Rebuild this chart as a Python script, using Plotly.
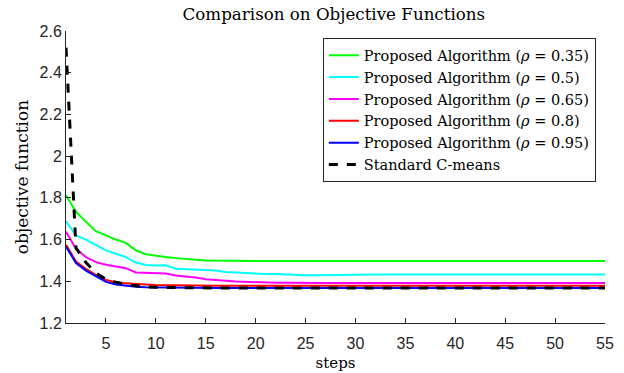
import plotly.graph_objects as go

steps = list(range(1, 56))

rho_035 = [1.813, 1.733, 1.685, 1.640, 1.620, 1.600, 1.584, 1.548, 1.530, 1.522,
           1.516, 1.511, 1.506, 1.503, 1.500, 1.499, 1.498, 1.497, 1.497, 1.497,
           1.497, 1.497, 1.497, 1.497, 1.497, 1.497, 1.497, 1.497, 1.497, 1.497,
           1.497, 1.497, 1.497, 1.497, 1.497, 1.497, 1.497, 1.497, 1.497, 1.497,
           1.497, 1.497, 1.497, 1.497, 1.497, 1.497, 1.497, 1.497, 1.497, 1.497,
           1.497, 1.497, 1.497, 1.497, 1.497]
rho_05 = [1.688, 1.620, 1.600, 1.572, 1.548, 1.532, 1.516, 1.490, 1.478, 1.476,
          1.477, 1.460, 1.458, 1.456, 1.455, 1.452, 1.445, 1.442, 1.440, 1.438,
          1.435, 1.435, 1.432, 1.430, 1.429, 1.429, 1.430, 1.431, 1.432, 1.432,
          1.432, 1.432, 1.432, 1.432, 1.432, 1.432, 1.432, 1.432, 1.432, 1.432,
          1.432, 1.432, 1.432, 1.432, 1.432, 1.432, 1.432, 1.432, 1.432, 1.432,
          1.432, 1.432, 1.432, 1.432, 1.432]
rho_065 = [1.637, 1.556, 1.516, 1.492, 1.479, 1.472, 1.463, 1.442, 1.440, 1.440,
           1.437, 1.428, 1.424, 1.418, 1.410, 1.405, 1.402, 1.399, 1.397, 1.395,
           1.394, 1.393, 1.393, 1.392, 1.392, 1.392, 1.392, 1.392, 1.392, 1.392,
           1.392, 1.392, 1.392, 1.392, 1.392, 1.392, 1.392, 1.392, 1.392, 1.392,
           1.392, 1.392, 1.392, 1.392, 1.392, 1.392, 1.392, 1.392, 1.392, 1.392,
           1.392, 1.392, 1.392, 1.392, 1.392]
rho_08 = [1.575, 1.495, 1.459, 1.430, 1.406, 1.395, 1.390, 1.386, 1.384, 1.382,
          1.381, 1.380, 1.380, 1.379, 1.379, 1.379, 1.379, 1.379, 1.379, 1.379,
          1.379, 1.379, 1.379, 1.379, 1.379, 1.379, 1.379, 1.379, 1.379, 1.379,
          1.379, 1.379, 1.379, 1.379, 1.379, 1.379, 1.379, 1.379, 1.379, 1.379,
          1.379, 1.379, 1.379, 1.379, 1.379, 1.379, 1.379, 1.379, 1.379, 1.379,
          1.379, 1.379, 1.379, 1.379, 1.379]
rho_095 = [1.567, 1.487, 1.451, 1.422, 1.397, 1.385, 1.378, 1.374, 1.372, 1.371,
           1.370, 1.369, 1.368, 1.368, 1.368, 1.368, 1.368, 1.368, 1.368, 1.368,
           1.368, 1.368, 1.368, 1.368, 1.368, 1.368, 1.368, 1.368, 1.368, 1.368,
           1.368, 1.368, 1.368, 1.368, 1.368, 1.368, 1.368, 1.368, 1.368, 1.368,
           1.368, 1.368, 1.368, 1.368, 1.368, 1.368, 1.368, 1.368, 1.368, 1.368,
           1.368, 1.368, 1.368, 1.368, 1.368]
c_means = [2.520, 1.560, 1.490, 1.440, 1.410, 1.395, 1.385, 1.378, 1.373, 1.371,
           1.370, 1.369, 1.368, 1.368, 1.368, 1.368, 1.368, 1.368, 1.368, 1.368,
           1.368, 1.368, 1.368, 1.368, 1.368, 1.368, 1.368, 1.368, 1.368, 1.368,
           1.368, 1.368, 1.368, 1.368, 1.368, 1.368, 1.368, 1.368, 1.368, 1.368,
           1.368, 1.368, 1.368, 1.368, 1.368, 1.368, 1.368, 1.368, 1.368, 1.368,
           1.368, 1.368, 1.368, 1.368, 1.368]

series_names = ["Proposed Algorithm (<i>ρ</i> = 0.35)", "Proposed Algorithm (<i>ρ</i> = 0.5)",
                "Proposed Algorithm (<i>ρ</i> = 0.65)", "Proposed Algorithm (<i>ρ</i> = 0.8)",
                "Proposed Algorithm (<i>ρ</i> = 0.95)", "Standard C-means"]
x_ticks = [5, 10, 15, 20, 25, 30, 35, 40, 45, 50, 55]
y_ticks = [1.2, 1.4, 1.6, 1.8, 2.0, 2.2, 2.4, 2.6]
y_tick_labels = ["1.2", "1.4", "1.6", "1.8", "2", "2.2", "2.4", "2.6"]

colors = ["#00FF00", "#00FFFF", "#FF00FF", "#FF0000", "#0000FF", "#000000"]
data = [rho_035, rho_05, rho_065, rho_08, rho_095, c_means]

fig = go.Figure()
for name, ys, col in zip(series_names, data, colors):
    dashed = name == "Standard C-means"
    fig.add_trace(go.Scatter(x=steps, y=ys, mode="lines", name=name,
                             line=dict(color=col, width=3 if dashed else 2,
                                       dash="dash" if dashed else "solid")))

serif = "DejaVu Serif, Liberation Serif, serif"
sans = "Liberation Sans, Arial, sans-serif"
axis_col = "#262626"
fig.update_layout(
    width=624, height=373,
    margin=dict(l=66, r=19, t=31, b=50),
    plot_bgcolor="white", paper_bgcolor="white",
    title=dict(text="Comparison on Objective Functions", x=0.535, xanchor="center",
               y=0.962, yanchor="middle",
               font=dict(family=serif, size=16.7, color="#000000")),
    legend=dict(x=0.983, y=0.975, xanchor="right", yanchor="top",
                bordercolor=axis_col, borderwidth=1, bgcolor="white",
                font=dict(family=serif, size=14.5, color="#000000"),
                itemwidth=30, tracegroupgap=0),
    xaxis=dict(range=[1, 55], tickvals=x_ticks, ticks="inside", ticklen=5,
               showgrid=False, zeroline=False, showline=True, linecolor=axis_col,
               linewidth=1, tickcolor=axis_col, ticklabelstandoff=6, automargin=False,
               tickfont=dict(family=sans, size=16, color=axis_col),
               title=dict(text="steps", font=dict(family=serif, size=15, color="#000000"),
                          standoff=6)),
    yaxis=dict(range=[1.2, 2.6], tickvals=y_ticks, ticktext=y_tick_labels,
               ticks="inside", ticklen=5, automargin=False,
               showgrid=False, zeroline=False, showline=True, linecolor=axis_col,
               linewidth=1, tickcolor=axis_col,
               tickfont=dict(family=sans, size=16, color=axis_col),
               title=dict(text="objective function", font=dict(family=serif, size=17, color="#000000"),
                          standoff=6)),
)

fig.write_html("out.html", config={"displayModeBar": False},
               post_script="document.body.style.margin='0px';")
